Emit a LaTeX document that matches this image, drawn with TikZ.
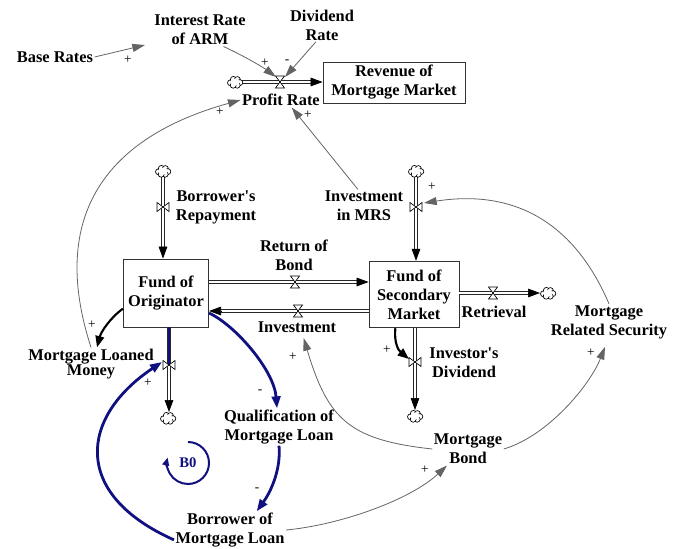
\documentclass[tikz,border=0pt]{standalone}
\usepackage{fontspec}
\setmainfont{Liberation Serif}
\newfontfamily\rawserif{Liberation Serif}
\usetikzlibrary{arrows.meta,calc}
\definecolor{loopblue}{RGB}{16,16,128}
\definecolor{linkgray}{RGB}{100,100,100}
\newcommand{\apos}{{\rawserif\bfseries '}}

\begin{document}
\begin{tikzpicture}[x=0.75pt,y=-0.75pt,
  lbl/.style={font=\fontsize{12.3pt}{14.2pt}\selectfont\bfseries, align=center, inner sep=1pt},
  stock/.style={lbl, draw=black!80, line width=0.6pt, inner sep=0pt},
  sign/.style={font=\fontsize{10pt}{12pt}\selectfont, inner sep=0pt},
  pipe/.style={draw=black!85, line width=0.55pt, double=white, double distance=1.8pt},
  pipetip/.style={draw=black, line width=0.5pt, -{Triangle[length=9pt,width=6.5pt]}},
  link/.style={draw=linkgray, line width=0.6pt, -{Triangle[length=9.5pt,width=6pt]}},
  strong/.style={draw=black, line width=1.6pt, -{Triangle[length=8.5pt,width=6.5pt]}},
  bluelink/.style={draw=loopblue, line width=2.1pt, -{Triangle[length=9pt,width=6.5pt]}},
  hvalve/.pic={\draw[line width=0.5pt, fill=white] (-4.5,-6) -- (4.5,-6) -- (-4.5,6) -- (4.5,6) -- cycle;},
  vvalve/.pic={\draw[line width=0.5pt, fill=white] (-6,-4.5) -- (-6,4.5) -- (6,-4.5) -- (6,4.5) -- cycle;},
  cloudpic/.pic={
    \foreach \cx/\cy in {-4.5/0.8, -1.6/-2.6, 2.4/-2.4, 4.8/0.6, 2.2/3.2, -1.8/3.2}
      \draw[line width=0.5pt, fill=white] (\cx,\cy) circle (3);
    \fill[white] (0,0.3) ellipse (5 and 3.3);
  }
]
\useasboundingbox (0,0) rectangle (682,549);

% stocks
\node[stock, minimum width=106.5pt, minimum height=30.75pt] (rev) at (394,82.5) {Revenue of\\Mortgage Market};
\node[stock, minimum width=64pt, minimum height=51pt] (fo) at (166,293) {Fund of\\Originator};
\node[stock, minimum width=67.5pt, minimum height=50pt] (fsm) at (414,294.5) {Fund of\\Secondary\\Market};

% variables and flow names
\node[lbl] (base) at (55,57) {Base Rates};
\node[lbl] (arm) at (200,30) {Interest Rate\\of ARM};
\node[lbl] (div) at (322,25) {Dividend\\Rate};
\node[lbl] (pr) at (281,100) {Profit Rate};
\node[lbl] (br) at (216,207) {Borrower\apos s\\Repayment};
\node[lbl] (rob) at (294,255) {Return of\\Bond};
\node[lbl] (inv) at (297,327) {Investment};
\node[lbl] (imrs) at (364,206) {Investment\\in MRS};
\node[lbl] (ret) at (494,312) {Retrieval};
\node[lbl] (mrs) at (609,322) {Mortgage\\Related Security};
\node[lbl] (idv) at (464,363) {Investor\apos s\\Dividend};
\node[lbl, font=\fontsize{12.3pt}{11.4pt}\selectfont\bfseries] (mlm) at (91,364) {Mortgage Loaned\\Money};
\node[lbl] (qml) at (279,427) {Qualification of\\Mortgage Loan};
\node[lbl] (bml) at (230,530) {Borrower of\\Mortgage Loan};
\node[lbl] (mb) at (468,449) {Mortgage\\Bond};

% valve positions
\coordinate (vpr) at (280,82);
\coordinate (vbr) at (163,207);
\coordinate (vrob) at (295,282);
\coordinate (vinv) at (298,311);
\coordinate (vimrs) at (416,207);
\coordinate (vret) at (493,293);
\coordinate (vidv) at (415,362);
\coordinate (vout) at (169,365);
\coordinate (armin) at (145,45);

% sources and sinks
\coordinate (c1) at (235,82);
\coordinate (c2) at (163,171);
\coordinate (c3) at (416,171);
\coordinate (c4) at (548,293);
\coordinate (c5) at (415,416);
\coordinate (c6) at (168,418);

% pipes
\draw[pipe, shorten >=8pt] (c1) -- (rev.west |- c1);
\draw[pipetip] ($(rev.west |- c1)+(-12,0)$) -- (rev.west |- c1);
\draw[pipe, shorten >=8pt] (c2) -- (c2 |- fo.north);
\draw[pipetip] ($(c2 |- fo.north)+(0,-12)$) -- (c2 |- fo.north);
\draw[pipe, shorten >=8pt] (fo.east |- vrob) -- (fsm.west |- vrob);
\draw[pipetip] ($(fsm.west |- vrob)+(-12,0)$) -- (fsm.west |- vrob);
\draw[pipe, shorten >=8pt] (fsm.west |- vinv) -- (fo.east |- vinv);
\draw[pipetip] ($(fo.east |- vinv)+(12,0)$) -- (fo.east |- vinv);
\draw[pipe, shorten >=8pt] (c3) -- (c3 |- fsm.north);
\draw[pipetip] ($(c3 |- fsm.north)+(0,-12)$) -- (c3 |- fsm.north);
\draw[pipe, shorten >=8pt] (fsm.east |- vret) -- ($(c4)+(-8,0)$);
\draw[pipetip] ($(c4)+(-20,0)$) -- ($(c4)+(-8,0)$);
\draw[pipe, shorten >=8pt] (vidv |- fsm.south) -- ($(c5)+(0,-6)$);
\draw[pipetip] ($(c5)+(0,-18)$) -- ($(c5)+(0,-6)$);
\draw[pipe, shorten >=8pt] (vout |- fo.south) -- ($(vout |- c6)+(0,-6)$);
\draw[pipetip] ($(vout |- c6)+(0,-18)$) -- ($(vout |- c6)+(0,-6)$);
\draw[draw=loopblue, line width=2.1pt] (vout |- fo.south) -- (vout);

% valves
\pic at (vpr) {hvalve};
\pic at (vrob) {hvalve};
\pic at (vinv) {hvalve};
\pic at (vret) {hvalve};
\pic at (vbr) {vvalve};
\pic at (vimrs) {vvalve};
\pic at (vidv) {vvalve};
\pic at (vout) {vvalve};

% clouds
\pic at (c1) {cloudpic};
\pic at (c2) {cloudpic};
\pic at (c3) {cloudpic};
\pic at (c4) {cloudpic};
\pic at (c5) {cloudpic};
\pic at (c6) {cloudpic};

% causal links
\draw[link] (base.east) -- (armin);
\draw[link] (arm.-35) .. controls (248,58) and (264,68) .. ([xshift=-3pt,yshift=3.75pt]vpr);
\draw[link] (div.250) -- ([xshift=3.75pt,yshift=3.75pt]vpr);
\draw[link] (mlm.north) .. controls (48,215) and (107,137) .. (pr.west);
\draw[link] (imrs.110) -- ([xshift=8pt]pr.south);
\draw[link] (mrs.north) .. controls (574,222) and (514,189) .. ([xshift=6pt,yshift=3pt]vimrs);
\draw[link] (bml.east) .. controls (340,525) and (410,500) .. ([xshift=-15.75pt]mb.south);
\draw[link] (mb.west) .. controls (350,440) and (328,420) .. ([xshift=5pt,yshift=-3pt]inv.south);
\draw[link] (mb.east) .. controls (548,436) and (590,385) .. ([xshift=-3pt,yshift=-5pt]mrs.south);
\draw[strong] (fo.200) .. controls (110,318) and (101,332) .. ([xshift=4.5pt]mlm.north);
\draw[strong] ([xshift=-14pt]fsm.south) .. controls (394,342) and (398,350) .. ([xshift=-4.5pt,yshift=2.25pt]vidv);

% balancing loop
\draw[bluelink] (fo.-25) .. controls (235,325) and (274,370) .. ([xshift=-1.5pt]qml.north);
\draw[bluelink] (qml.south) .. controls (281,468) and (272,490) .. ([xshift=20pt]bml.north);
\draw[bluelink] (bml.190) .. controls (71,494) and (80,417) .. ([xshift=-5.25pt,yshift=2.25pt]vout);
\node[font=\fontsize{11pt}{13pt}\selectfont\bfseries, text=loopblue, inner sep=0pt] (b0) at (188,463) {B0};
\draw[draw=loopblue, line width=1.5pt, -{Triangle[length=6pt,width=5pt]}]
  (b0.center) ++(0,-21) arc[start angle=-90, end angle=195, radius=21];

% polarities
\node[sign] (s1) at (128,60) {+};
\node[sign] (s2) at (265,63) {+};
\node[sign] (s3) at (287,62) {-};
\node[sign] (s4) at (220,112) {+};
\node[sign] (s5) at (308,115) {+};
\node[sign] (s6) at (432,187) {+};
\node[sign] (s7) at (92,325) {+};
\node[sign] (s8) at (387,350) {+};
\node[sign] (s9) at (260,392) {-};
\node[sign] (s10) at (257,490) {-};
\node[sign] (s11) at (148,383) {+};
\node[sign] (s12) at (425,470) {+};
\node[sign] (s13) at (293,357) {+};
\node[sign] (s14) at (591,353) {+};
\end{tikzpicture}
\end{document}
